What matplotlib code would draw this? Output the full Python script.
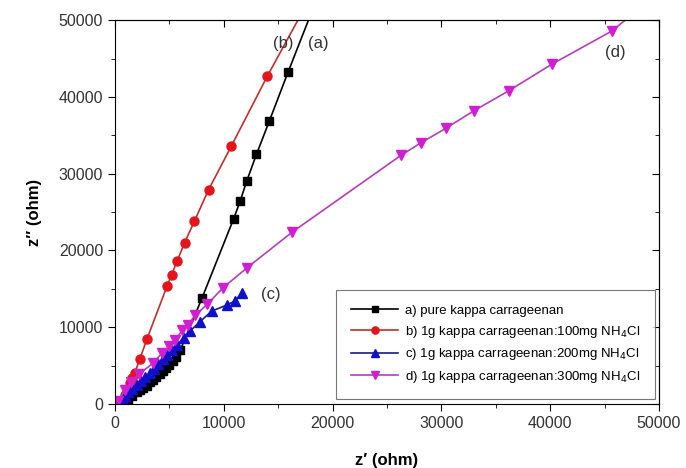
import numpy as np
import matplotlib.pyplot as plt
from matplotlib.ticker import MultipleLocator

plt.rcParams['font.family'] = ['Liberation Sans', 'DejaVu Sans']

# (a) pure kappa carrageenan
a_x = [800, 1200, 1600, 2000, 2300, 2600, 2900, 3200, 3500, 3800, 4100, 4400, 4700,
       5000, 5300, 5600, 6000, 8000, 10900, 11500, 12100, 13000, 14200, 15900, 18200]
a_y = [100, 500, 1000, 1500, 1800, 2100, 2400, 2800, 3100, 3500, 3900, 4300, 4700,
       5100, 5600, 6100, 7000, 13800, 24100, 26400, 29000, 32500, 36900, 43200, 51500]

# (b) 100 mg NH4Cl
b_x = [600, 900, 1200, 1400, 1600, 1800, 2300, 2950, 4800, 5200, 5700, 6400, 7300,
       8600, 10700, 14000, 17200]
b_y = [400, 1200, 2000, 2700, 3400, 4000, 5900, 8500, 15400, 16800, 18600, 21000,
       23800, 27900, 33600, 42700, 51000]

# (c) 200 mg NH4Cl
c_x = [100, 300, 600, 900, 1200, 1600, 2000, 2400, 2800, 3200, 3600, 4000, 4400,
       4800, 5200, 5700, 6300, 6900, 7800, 8900, 10300, 11000, 11700]
c_y = [0, 300, 700, 1100, 1500, 2000, 2500, 3000, 3500, 4000, 4600, 5200, 5800,
       6400, 7000, 7700, 8600, 9500, 10700, 12100, 12900, 13400, 14500]

# (d) 300 mg NH4Cl
d_x = [300, 900, 1500, 2200, 3500, 4300, 5000, 5500, 6200, 6700, 7400, 8500, 9900,
       12100, 16300, 26300, 28100, 30400, 33000, 36200, 40200, 45700, 48000]
d_y = [400, 1800, 2900, 3900, 5300, 6600, 7500, 8300, 9600, 10300, 11600, 13000,
       15100, 17700, 22400, 32400, 34000, 35900, 38200, 40800, 44300, 48600, 51300]

labels = ["a) pure kappa carrageenan",
          "b) 1g kappa carrageenan:100mg NH$_4$Cl",
          "c) 1g kappa carrageenan:200mg NH$_4$Cl",
          "d) 1g kappa carrageenan:300mg NH$_4$Cl"]

fig = plt.figure(figsize=(6.86, 4.68), dpi=100)
ax = fig.add_axes([0.1676, 0.1368, 0.7930, 0.8202])

ax.plot(a_x, a_y, color="black", lw=1.2, marker="s", ms=5.5, mfc="black", mec="black", label=labels[0])
ax.plot(b_x, b_y, color="#c0302a", lw=1.2, marker="o", ms=6.5, mfc="#e3141b", mec="#e3141b", label=labels[1])
ax.plot(c_x, c_y, color="#1a1a80", lw=1.2, marker="^", ms=6.5, mfc="#1010c8", mec="#1010c8", label=labels[2])
ax.plot(d_x, d_y, color="#b040b8", lw=1.2, marker="v", ms=6.5, mfc="#d21ed2", mec="#d21ed2", label=labels[3])

ax.set_xlim(0, 50000)
ax.set_ylim(0, 50000)
ax.xaxis.set_major_locator(MultipleLocator(10000))
ax.xaxis.set_minor_locator(MultipleLocator(5000))
ax.yaxis.set_major_locator(MultipleLocator(10000))
ax.yaxis.set_minor_locator(MultipleLocator(5000))
ax.tick_params(which="both", direction="out", top=False, right=False, labelsize=11.5)
ax.tick_params(which="major", length=5)
ax.tick_params(which="minor", length=3)
for t in ax.get_xticklabels() + ax.get_yticklabels():
    t.set_color("#333333")

sec_x = ax.secondary_xaxis("top")
sec_x.xaxis.set_major_locator(MultipleLocator(10000))
sec_x.xaxis.set_minor_locator(MultipleLocator(5000))
sec_x.tick_params(which="both", direction="in", labeltop=False)
sec_x.tick_params(which="major", length=5)
sec_x.tick_params(which="minor", length=3)
sec_y = ax.secondary_yaxis("right")
sec_y.yaxis.set_major_locator(MultipleLocator(10000))
sec_y.yaxis.set_minor_locator(MultipleLocator(5000))
sec_y.tick_params(which="both", direction="in", labelright=False)
sec_y.tick_params(which="major", length=5)
sec_y.tick_params(which="minor", length=3)

ax.set_xlabel("z\u2032 (ohm)", fontsize=12, fontweight="bold", labelpad=16)
ax.set_ylabel("z\u2032\u2032 (ohm)", fontsize=12, fontweight="bold", labelpad=12)

ax.text(15500, 46900, "(b)", fontsize=12, ha="center", va="center", color="#333333")
ax.text(18700, 46900, "(a)", fontsize=12, ha="center", va="center", color="#333333")
ax.text(14300, 14200, "(c)", fontsize=12, ha="center", va="center", color="#333333")
ax.text(46000, 45800, "(d)", fontsize=12, ha="center", va="center", color="#333333")

leg = ax.legend(loc="lower right", bbox_to_anchor=(0.997, 0.005), fontsize=9.5, frameon=True,
                fancybox=False, edgecolor="#555555", borderpad=1.1, handlelength=3.6,
                labelspacing=0.5, markerscale=0.8, borderaxespad=0.2, handletextpad=0.5)
leg.get_frame().set_linewidth(0.8)

fig.savefig("out.png", dpi=100)
